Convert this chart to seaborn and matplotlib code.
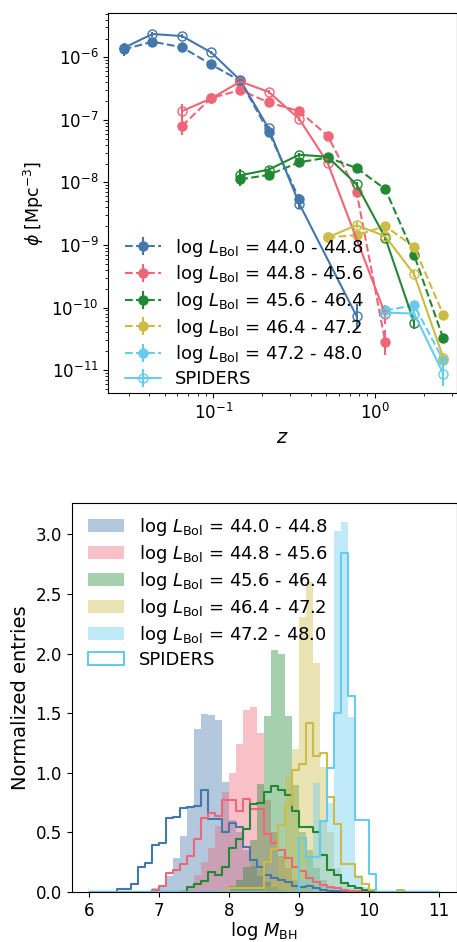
import numpy as np
import matplotlib
matplotlib.use("Agg")
import matplotlib.pyplot as plt
from matplotlib.patches import Patch
import seaborn as sns

# ---------------- data: luminosity function (top panel) ----------------
labels = ["log $L_{\\rm Bol}$ = 44.0 - 44.8", "log $L_{\\rm Bol}$ = 44.8 - 45.6",
          "log $L_{\\rm Bol}$ = 45.6 - 46.4", "log $L_{\\rm Bol}$ = 46.4 - 47.2",
          "log $L_{\\rm Bol}$ = 47.2 - 48.0"]
colors = ["#4477AA", "#EE6677", "#228833", "#CCBB44", "#66CCEE"]

# filled points (dashed lines)
z_b1 = [0.028, 0.042, 0.064, 0.097, 0.147, 0.22, 0.34]
phi_b1 = [1.34e-6, 1.78e-6, 1.45e-6, 7.7e-7, 4.2e-7, 6.5e-8, 5.4e-9]
err_b1 = [0.10, 0.04, 0.03, 0.03, 0.03, 0.04, 0.08]
z_b2 = [0.064, 0.097, 0.147, 0.22, 0.34, 0.51, 0.77, 1.16]
phi_b2 = [8.0e-8, 2.23e-7, 3.0e-7, 1.9e-7, 1.38e-7, 5.6e-8, 7.1e-9, 2.8e-11]
err_b2 = [0.15, 0.03, 0.03, 0.03, 0.03, 0.04, 0.08, 0.2]
z_b3 = [0.147, 0.22, 0.34, 0.51, 0.77, 1.16, 1.75, 2.65]
phi_b3 = [1.12e-8, 1.32e-8, 2.1e-8, 2.5e-8, 1.7e-8, 7.8e-9, 6.9e-10, 3.2e-11]
err_b3 = [0.10, 0.04, 0.03, 0.03, 0.03, 0.04, 0.05, 0.06]
z_b4 = [0.51, 0.77, 1.16, 1.75, 2.65]
phi_b4 = [1.32e-9, 1.44e-9, 2.0e-9, 9.3e-10, 7.7e-11]
err_b4 = [0.05, 0.05, 0.04, 0.05, 0.05]
z_b5 = [1.16, 1.75, 2.65]
phi_b5 = [9.0e-11, 1.09e-10, 1.44e-11]
err_b5 = [0.06, 0.06, 0.10]

# SPIDERS (open points, solid lines)
zs_b1 = [0.028, 0.042, 0.064, 0.097, 0.147, 0.22, 0.34, 0.77]
phis_b1 = [1.42e-6, 2.36e-6, 2.19e-6, 1.2e-6, 4.3e-7, 7.3e-8, 4.6e-9, 7.3e-11]
errs_b1 = [0.06, 0.04, 0.03, 0.03, 0.03, 0.04, 0.08, 0.2]
zs_b2 = [0.064, 0.097, 0.147, 0.22, 0.34, 0.51, 1.16]
phis_b2 = [1.38e-7, 2.2e-7, 4.1e-7, 2.8e-7, 1.04e-7, 2.06e-8, 7.8e-11]
errs_b2 = [0.12, 0.03, 0.03, 0.03, 0.03, 0.04, 0.15]
zs_b3 = [0.147, 0.22, 0.34, 0.51, 0.77, 1.16, 1.75]
phis_b3 = [1.3e-8, 1.6e-8, 2.77e-8, 2.57e-8, 9.3e-9, 1.3e-9, 5.75e-11]
errs_b3 = [0.10, 0.05, 0.03, 0.03, 0.04, 0.05, 0.10]
zs_b4 = [0.51, 0.77, 1.16, 1.75, 2.65]
phis_b4 = [1.32e-9, 2.07e-9, 1.38e-9, 3.4e-10, 1.58e-11]
errs_b4 = [0.05, 0.05, 0.04, 0.05, 0.08]
zs_b5 = [1.16, 1.75, 2.65]
phis_b5 = [8.3e-11, 8.0e-11, 8.8e-12]
errs_b5 = [0.06, 0.08, 0.20]

# ---------------- data: M_BH histograms (bottom panel) ----------------
bin_lo, bin_hi, bin_w = 6.0, 11.0, 0.1
fill1_start = 6.8
fill1 = [0.01, 0.03, 0.06, 0.134, 0.282, 0.469, 0.72, 1.366, 1.492, 1.484, 1.442, 0.925,
         0.60, 0.50, 0.35, 0.22, 0.13, 0.08, 0.04, 0.02]
fill2_start = 7.3
fill2 = [0.02, 0.045, 0.142, 0.25, 0.37, 0.55, 0.84, 1.0, 1.24, 1.525, 1.553, 1.33,
         0.77, 0.5, 0.3, 0.2, 0.1, 0.05, 0.03]
fill3_start = 7.9
fill3 = [0.02, 0.05, 0.1, 0.21, 0.44, 0.905, 1.475, 2.03, 2.0, 1.48, 0.9, 0.5, 0.35, 0.2,
         0.1, 0.05]
fill4_start = 8.4
fill4 = [0.02, 0.05, 0.12, 0.3, 0.97, 1.2, 2.31, 2.60, 1.917, 1.05, 0.5, 0.2, 0.08, 0.03]
fill5_start = 8.9
fill5 = [0.02, 0.1, 0.3, 0.91, 0.6, 0.743, 3.026, 3.104, 1.47, 0.14, 0.045]

step1_start = 6.4
step1 = [0.025, 0.025, 0.067, 0.207, 0.246, 0.391, 0.41, 0.617, 0.63, 0.707, 0.715, 0.72,
         0.855, 0.61, 0.615, 0.503, 0.58, 0.542, 0.38, 0.268, 0.212, 0.142, 0.115, 0.1,
         0.087, 0.053, 0.045, 0.053, 0.03, 0.02, 0.01, 0.005]
step2_start = 6.9
step2 = [0.017, 0.053, 0.162, 0.184, 0.235, 0.302, 0.441, 0.62, 0.659, 0.637, 0.771, 0.771,
         0.682, 0.782, 0.70, 0.70, 0.483, 0.408, 0.352, 0.282, 0.212, 0.176, 0.115, 0.087,
         0.06, 0.045, 0.03, 0.02, 0.012, 0.008]
step3_start = 7.4
step3 = [0.039, 0.067, 0.095, 0.17, 0.14, 0.212, 0.366, 0.441, 0.525, 0.735, 0.743, 0.84,
         0.891, 0.855, 0.813, 0.679, 0.542, 0.542, 0.506, 0.31, 0.184, 0.143, 0.078, 0.053,
         0.031, 0.015, 0.005]
step4_start = 7.9
step4 = [0.011, 0.03, 0.03, 0.03, 0.03, 0.03, 0.254, 0.358, 0.56, 0.729, 1.023, 1.07,
         1.419, 1.14, 1.162, 0.794, 0.57, 0.232, 0.232, 0.129, 0.064, 0.017, 0.0, 0.0,
         0.0, 0.02]
step5_start = 9.0
step5 = [0.45, 0.296, 0.296, 0.598, 1.04, 1.50, 2.84, 1.64, 0.60, 0.60, 0.15]

hist_fills = [(fill1_start, fill1), (fill2_start, fill2), (fill3_start, fill3),
              (fill4_start, fill4), (fill5_start, fill5)]
hist_steps = [(step1_start, step1), (step2_start, step2), (step3_start, step3),
              (step4_start, step4), (step5_start, step5)]

# ---------------- figure ----------------
sns.set_style("ticks")
plt.rcParams.update({
    "font.family": ["DejaVu Sans"],
    "mathtext.fontset": "dejavusans",
    "axes.edgecolor": "black",
    "axes.linewidth": 0.8,
    "xtick.color": "black",
    "ytick.color": "black",
    "text.color": "black",
    "axes.labelcolor": "black",
    "xtick.major.size": 3.5, "ytick.major.size": 3.5,
    "xtick.minor.size": 2.0, "ytick.minor.size": 2.0,
    "xtick.major.width": 0.8, "ytick.major.width": 0.8,
    "xtick.minor.width": 0.6, "ytick.minor.width": 0.6,
    "xtick.major.pad": 3.5, "ytick.major.pad": 3.5,
    "axes.labelpad": 4.0,
})

W, H = 457, 942
fig = plt.figure(figsize=(W / 100, H / 100), dpi=100)
ax1 = fig.add_axes([108.3 / W, 1 - 393 / H, (456.5 - 108.3) / W, (393 - 13.3) / H])
ax2 = fig.add_axes([71.7 / W, 1 - 892 / H, (456.5 - 71.7) / W, (892 - 503.3) / H])


def dex_err(phi, d):
    phi = np.asarray(phi)
    d = np.asarray(d)
    return np.vstack([phi * (1 - 10 ** (-d)), phi * (10 ** d - 1)])


filled = [(z_b1, phi_b1, err_b1), (z_b2, phi_b2, err_b2), (z_b3, phi_b3, err_b3),
          (z_b4, phi_b4, err_b4), (z_b5, phi_b5, err_b5)]
spiders = [(zs_b1, phis_b1, errs_b1), (zs_b2, phis_b2, errs_b2), (zs_b3, phis_b3, errs_b3),
           (zs_b4, phis_b4, errs_b4), (zs_b5, phis_b5, errs_b5)]

handles1 = []
for (zz, pp, ee), c in zip(filled, colors):
    h = ax1.errorbar(zz, pp, yerr=dex_err(pp, ee), fmt="o", ls="--", color=c, ms=6.5,
                     lw=1.5, elinewidth=1.5, capsize=0)
    handles1.append(h)
hs = None
for (zz, pp, ee), c in zip(spiders, colors):
    hs = ax1.errorbar(zz, pp, yerr=dex_err(pp, ee), fmt="o", ls="-", color=c, ms=6.5,
                      mfc="none", mec=c, mew=1.0, lw=1.5, elinewidth=1.5, capsize=0)
handles1.append(hs)

ax1.set_xscale("log")
ax1.set_yscale("log")
ax1.set_xlim(0.0224, 3.2)
ax1.set_ylim(4.3e-12, 5.06e-6)
ax1.set_xlabel("$z$", fontsize=14)
ax1.set_ylabel("$\\phi$ [Mpc$^{-3}$]", fontsize=12.5)
ax1.tick_params(labelsize=12)
ax1.legend(handles1, labels + ["SPIDERS"], loc="lower left", bbox_to_anchor=(0, -0.03),
           frameon=False, fontsize=13, handlelength=2.0, labelspacing=0.26)

# histograms
edges = np.round(np.arange(bin_lo, bin_hi + bin_w / 2, bin_w), 2)
centers = edges[:-1] + bin_w / 2
edge_list = [float(e) for e in edges]


def full_heights(start, vals):
    h = np.zeros(len(centers))
    i0 = int(round((start - bin_lo) / bin_w))
    h[i0:i0 + len(vals)] = vals
    return h


for (st, vals), c in zip(hist_fills, colors):
    sns.histplot(x=centers, weights=full_heights(st, vals), bins=edge_list, element="bars",
                 fill=True, alpha=0.4, color=c, linewidth=0, ax=ax2)
for (st, vals), c in zip(hist_steps, colors):
    sns.histplot(x=centers, weights=full_heights(st, vals), bins=edge_list, element="step",
                 fill=False, color=c, linewidth=1.5, ax=ax2)

ax2.set_xlim(5.75, 11.25)
ax2.set_ylim(0, 3.26)
ax2.set_xticks([6, 7, 8, 9, 10, 11])
ax2.set_yticks([0, 0.5, 1.0, 1.5, 2.0, 2.5, 3.0])
ax2.set_yticklabels(["0.0", "0.5", "1.0", "1.5", "2.0", "2.5", "3.0"])
ax2.set_xlabel("log $M_{\\rm BH}$", fontsize=13, labelpad=0)
ax2.set_ylabel("Normalized entries", fontsize=14)
ax2.tick_params(labelsize=12)

handles2 = [Patch(facecolor=c, alpha=0.4, edgecolor="none") for c in colors]
handles2.append(Patch(facecolor="none", edgecolor=colors[4], linewidth=1.5))
ax2.legend(handles2, labels + ["SPIDERS"], loc="upper left", bbox_to_anchor=(0, 1.01),
           frameon=False, fontsize=13, labelspacing=0.28)

for ax in (ax1, ax2):
    for s in ax.spines.values():
        s.set_visible(True)
        s.set_color("black")
        s.set_linewidth(0.8)

fig.savefig("out.png", dpi=100)
